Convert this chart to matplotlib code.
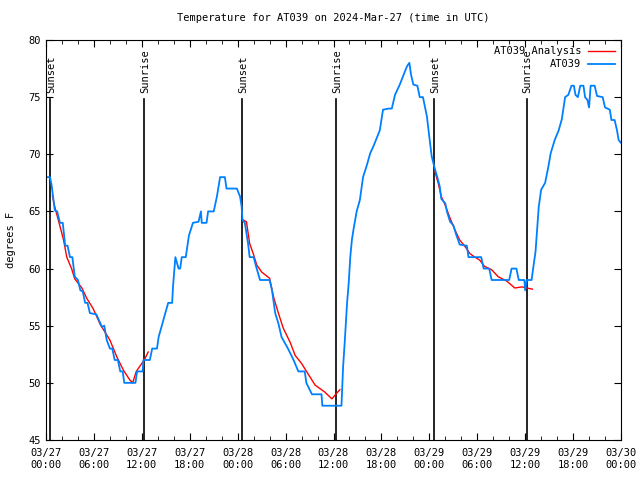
import matplotlib
matplotlib.use("Agg")
import matplotlib.pyplot as plt
import numpy as np

plt.rcParams['font.family'] = ['DejaVu Sans Mono']
plt.rcParams['font.size'] = 7.5

# hours since 03/27 00:00 UTC
obs_hours = [0.0, 0.5, 0.7, 1.1, 1.4, 1.75, 2.1, 2.4, 2.7, 3.0, 3.3, 3.6, 4.0, 4.3, 4.6,
             4.9, 5.2, 5.5, 6.3, 7.0, 7.3, 7.6, 8.0, 8.3, 8.6, 9.0, 9.3, 9.6, 9.8, 11.2,
             11.4, 12.1, 12.2, 13.0, 13.3, 13.9, 14.1, 14.5, 14.9, 15.3, 15.8, 15.9, 16.2,
             16.4, 16.6, 16.8, 17.0, 17.5, 17.9, 18.4, 19.1, 19.4, 19.5, 20.1, 20.3, 21.0,
             21.4, 21.8, 22.4, 22.6, 23.9, 24.3, 24.5, 24.6, 24.9, 25.3, 25.5, 26.0, 26.3,
             26.8, 28.0, 28.3, 28.7, 29.1, 29.5, 30.3, 31.0, 31.6, 32.4, 32.6, 33.3, 34.5,
             34.6, 37.0, 37.2, 37.4, 37.7, 37.9, 38.1, 38.3, 38.5, 38.9, 39.3, 39.7, 40.2,
             40.6, 41.0, 41.4, 41.8, 42.2, 42.9, 43.3, 43.7, 44.3, 44.8, 45.2, 45.5, 45.7,
             46.0, 46.5, 46.8, 47.2, 47.7, 48.0, 48.3, 48.7, 49.0, 49.3, 49.5, 50.0, 50.2,
             50.6, 51.0, 51.3, 51.8, 52.7, 52.9, 54.5, 54.8, 55.5, 55.8, 58.0, 58.3, 58.9,
             59.2, 59.9, 60.0, 60.2, 60.8, 61.0, 61.3, 61.5, 61.7, 62.0, 62.5, 62.9, 63.2,
             63.7, 64.2, 64.6, 65.0, 65.4, 65.8, 66.1, 66.3, 66.6, 66.9, 67.3, 67.5, 67.8,
             68.0, 68.2, 68.7, 69.0, 69.7, 70.0, 70.6, 70.8, 71.2, 71.5, 71.7, 72.0]
obs_temp = [68, 68, 67.3, 65.1, 65, 64, 64, 62, 62, 61, 61, 59.3, 59, 58.1, 58,
            57, 57, 56.1, 56, 54.9, 55, 53.75, 53, 53, 52, 52, 51, 51, 50, 50,
            51, 51, 52, 52, 53, 53, 54, 55, 56, 57, 57, 58.4, 61,
            60.5, 60, 60, 61, 61, 62.9, 64, 64.1, 65, 64, 64, 65, 65,
            66.3, 68, 68, 67, 67, 66.3, 65.4, 64.25, 64, 62.2, 61, 61, 60.2,
            59, 59, 58.1, 56.1, 55.2, 54, 53, 52, 51, 51, 50, 49, 49,
            48, 48, 51.4, 53.5, 57, 58.7, 61, 62.5, 63.4, 65, 66, 68, 69.1,
            70.1, 70.7, 71.4, 72.1, 73.9, 74, 74, 75.2, 76.1, 77, 77.7, 78, 77,
            76.1, 76, 75, 75, 73.3, 71.5, 69.8, 68.7, 68, 67.2, 66.1, 65.7, 65,
            64.1, 63.8, 63.1, 62.1, 62, 61, 61, 60, 60, 59, 59, 60, 60,
            59, 59, 58.1, 59, 59, 60, 61.5, 63.4, 65.4, 66.9, 67.5, 68.9, 70.1,
            71.25, 72.1, 73.1, 75, 75.2, 76, 76, 75.2, 75, 76, 76, 75, 74.75,
            74.1, 76, 76, 75.1, 75, 74.1, 73.9, 73, 73, 72.1, 71.25, 71]

# analysis, one piece per night
ana1_hours = [0.8, 1.1, 1.75, 2.2, 2.6, 3.2, 3.6, 4.5, 5.1, 5.9, 6.8, 8.0, 8.85, 9.7,
              10.5, 10.85, 11.3, 12.3, 12.8]
ana1_temp = [66.4, 65.4, 63.7, 62.5, 61, 60, 59.1, 58.3, 57.4, 56.5, 55.1, 53.75, 52.3,
             51.1, 50.25, 50, 51, 52, 52.7]
ana2_hours = [24.7, 25.1, 25.5, 26.0, 26.4, 27.0, 28.0, 28.5, 29.1, 29.7, 30.6, 31.2,
              32.0, 32.8, 33.7, 34.9, 35.8, 36.4, 36.8]
ana2_temp = [64.25, 64.1, 62.2, 61.2, 60.3, 59.7, 59.15, 57.5, 56.1, 54.8, 53.5, 52.4,
             51.7, 50.8, 49.8, 49.2, 48.6, 49.1, 49.4]
ana3_hours = [48.7, 49.1, 49.5, 49.96, 50.6, 51.2, 51.8, 52.5, 53.1, 53.7, 54.3, 54.9,
              55.8, 56.6, 57.7, 58.7, 59.6, 60.2, 60.9]
ana3_temp = [68.5, 67.5, 66.3, 65.6, 64.4, 63.4, 62.5, 61.9, 61.3, 61, 60.75, 60.2,
             59.9, 59.3, 58.9, 58.3, 58.4, 58.3, 58.2]

sun_hours = [0.54, 12.3, 24.57, 36.34, 48.6, 60.2]
sun_labels = ['Sunset', 'Sunrise', 'Sunset', 'Sunrise', 'Sunset', 'Sunrise']

tick_hours = list(range(0, 73, 6))
tick_labels = ['03/27\n00:00', '03/27\n06:00', '03/27\n12:00', '03/27\n18:00',
               '03/28\n00:00', '03/28\n06:00', '03/28\n12:00', '03/28\n18:00',
               '03/29\n00:00', '03/29\n06:00', '03/29\n12:00', '03/29\n18:00',
               '03/30\n00:00']

fig = plt.figure(figsize=(6.4, 4.8), dpi=100)
ax = fig.add_axes([46 / 640, 40 / 480, 575 / 640, 400 / 480])

for h, lab in zip(sun_hours, sun_labels):
    ax.plot([h, h], [45, 74.8], color='black', lw=1.2)
    ax.text(h + 0.1, 75.4, lab, rotation=90, ha='center', va='bottom', fontsize=7.5)

ax.plot(ana1_hours, ana1_temp, color='#ff0000', lw=1.0, label='AT039 Analysis')
ax.plot(ana2_hours, ana2_temp, color='#ff0000', lw=1.0)
ax.plot(ana3_hours, ana3_temp, color='#ff0000', lw=1.0)
ax.plot(obs_hours, obs_temp, color='#0080ff', lw=1.3, label='AT039')

ax.set_xlim(0, 72)
ax.set_ylim(45, 80)
ax.set_xticks(tick_hours)
ax.set_xticklabels(tick_labels)
ax.set_xticks(range(0, 73, 2), minor=True)
ax.set_yticks(range(45, 81, 5))
ax.tick_params(which='both', direction='in', top=True, right=True)
ax.tick_params(which='major', length=5)
ax.tick_params(which='minor', length=3)
ax.tick_params(axis='x', pad=6)

ax.set_ylabel('degrees F', labelpad=9)
ax.set_title('Temperature for AT039 on 2024-Mar-27 (time in UTC)', fontsize=7.5, pad=14)

leg = ax.legend(loc='upper right', frameon=False, markerfirst=False, handlelength=2.6,
                borderaxespad=0.2, labelspacing=0.3, handletextpad=0.6)

fig.savefig('out.png', dpi=100)
